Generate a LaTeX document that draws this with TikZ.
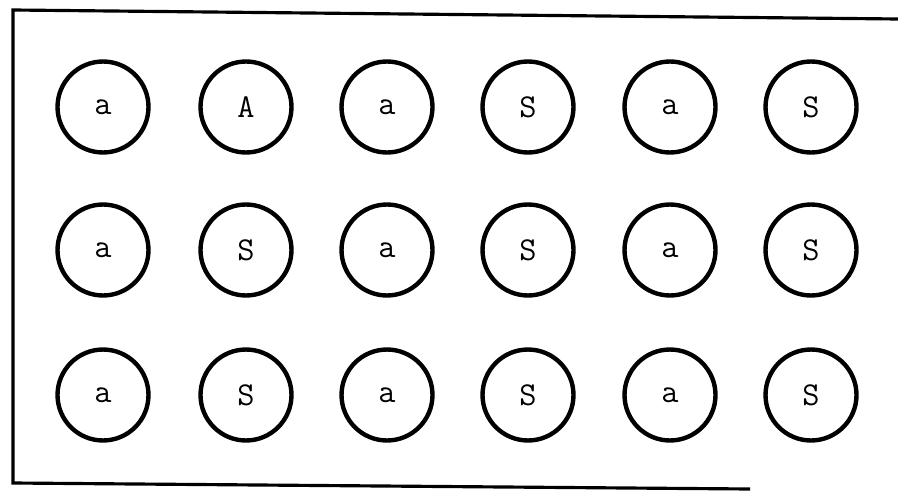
\documentclass[tikz,border=0pt]{standalone}
\usepackage{tikz}
\usetikzlibrary{positioning}

\begin{document}
\begin{tikzpicture}[x=0.02cm, y=0.02cm,
    cell/.style={circle, draw, line width=2.5pt, minimum size=1.82cm, inner sep=0pt,
      font=\ttfamily\fontsize{19}{21}\selectfont}]
          \useasboundingbox (0,0) rectangle (898,491);
          % frame, open on the right
          \draw[line width=1.8pt] (898,472) -- (13,481) -- (13,8) -- (750,2);

          % first row
          \node[cell] (R1C1) at (103,384) {a};
          \node[cell] (R1C2) at (246,384) {A};
          \node[cell] (R1C3) at (387,384) {a};
          \node[cell] (R1C4) at (528,384) {S};
          \node[cell] (R1C5) at (670,384) {a};
          \node[cell] (R1C6) at (811,384) {S};

          % second row
          \node[cell] (R2C1) at (103,241) {a};
          \node[cell] (R2C2) at (246,241) {S};
          \node[cell] (R2C3) at (387,241) {a};
          \node[cell] (R2C4) at (528,241) {S};
          \node[cell] (R2C5) at (670,241) {a};
          \node[cell] (R2C6) at (811,241) {S};

          % third row
          \node[cell] (R3C1) at (103,96) {a};
          \node[cell] (R3C2) at (246,96) {S};
          \node[cell] (R3C3) at (387,96) {a};
          \node[cell] (R3C4) at (528,96) {S};
          \node[cell] (R3C5) at (670,96) {a};
          \node[cell] (R3C6) at (811,96) {S};
        \end{tikzpicture}
\end{document}
